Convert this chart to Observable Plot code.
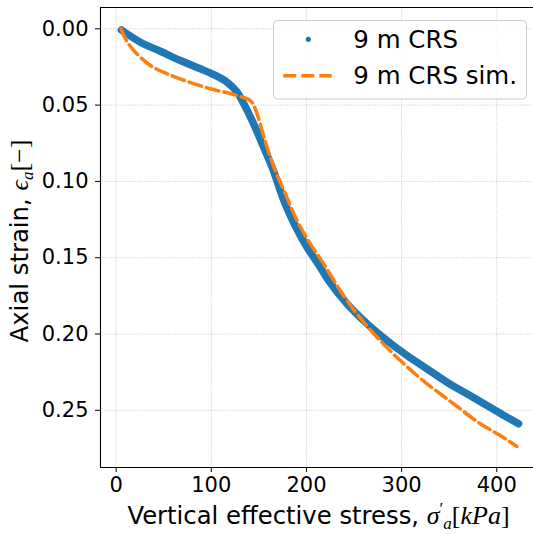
<!DOCTYPE html>
<html><head><meta charset="utf-8">
<script src="https://cdn.jsdelivr.net/npm/d3@7"></script>
<script src="https://cdn.jsdelivr.net/npm/@observablehq/plot@0.6"></script>
<style>body{margin:0;background:#fff} svg{display:block}</style>
</head><body><div id="chart"></div>
<script>
const blueStress = [5.5, 25.5, 46.5, 67.5, 88.5, 102.5, 116.6, 127.1, 134, 144.5, 155, 163.9, 170.8, 178.5, 189, 200.6, 214.5, 223.3, 242.6, 263.7, 284.7, 305.7, 326.7, 347.7, 368.7, 389.7, 410.7, 422.9];
const blueStrain = [0.0008, 0.0088, 0.0147, 0.0208, 0.0262, 0.030, 0.035, 0.0415, 0.049, 0.0623, 0.0776, 0.0907, 0.1030, 0.1160, 0.1300, 0.1431, 0.1562, 0.165, 0.1802, 0.1933, 0.2043, 0.2141, 0.2228, 0.2316, 0.2392, 0.2469, 0.2545, 0.2588];
const simStress = [5.2, 9.8, 18.5, 36, 53.6, 74.6, 99, 123.5, 141, 144.5, 148.1, 158.6, 167.3, 177.8, 190.1, 204.1, 218.1, 235.5, 253.1, 274.2, 298.6, 326.7, 354.6, 382.7, 403.7, 421.2];
const simStrain = [0, 0.0066, 0.0142, 0.024, 0.0295, 0.0345, 0.0393, 0.0431, 0.047, 0.0503, 0.0557, 0.0776, 0.0929, 0.1081, 0.1256, 0.1409, 0.154, 0.1715, 0.1868, 0.2021, 0.2174, 0.2326, 0.2457, 0.2588, 0.2665, 0.2737];
const xTicks = [0, 100, 200, 300, 400];
const yTicks = [0, 0.05, 0.10, 0.15, 0.20, 0.25];
const seriesNames = ["9 m CRS", "9 m CRS sim."];
const xDomain = [-16.45, 438.6];
const yDomain = [-0.01396, 0.28746];

const blue = blueStress.map((s, i) => ({s, e: blueStrain[i]}));
const sim = simStress.map((s, i) => ({s, e: simStrain[i]}));

const grid = {stroke: "#b0b0b0", strokeOpacity: 1, strokeWidth: 0.8, strokeDasharray: "0.8,1.4"};

const plot = Plot.plot({
  width: 533, height: 534,
  marginLeft: 100, marginRight: 0, marginTop: 7, marginBottom: 67,
  style: {fontFamily: "DejaVu Sans", fontSize: "21px", color: "#000", background: "#fff"},
  x: {domain: xDomain, axis: null},
  y: {domain: yDomain, reverse: true, axis: null},
  marks: [
    Plot.gridX(xTicks, grid),
    Plot.gridY(yTicks, grid),
    Plot.line(blue, {x: "s", y: "e", stroke: "#1f77b4", strokeWidth: 7.5, strokeLinecap: "round", strokeLinejoin: "round", curve: "catmull-rom"}),
    Plot.line(sim, {x: "s", y: "e", stroke: "#ff7f0e", strokeWidth: 3.5, strokeDasharray: "13,5", curve: "catmull-rom"}),
    Plot.ruleY([yDomain[0], yDomain[1]], {stroke: "#000", strokeWidth: 1.1}),
    Plot.ruleX([xDomain[0]], {stroke: "#000", strokeWidth: 1.1}),
    Plot.axisX(xTicks, {anchor: "bottom", tickSize: 5, tickPadding: 5, label: null, fontSize: 21, tickFormat: d3.format("d")}),
    Plot.axisY(yTicks, {anchor: "left", tickSize: 5, tickPadding: 7, label: null, fontSize: 21, tickFormat: d3.format(".2f")})
  ]
});

const svg = d3.select(plot);
const mathFont = "Liberation Serif";

// x label
const xl = svg.append("text").attr("x", 318.5).attr("y", 524).attr("text-anchor", "middle")
  .attr("font-family", "DejaVu Sans").attr("font-size", 24.3).attr("fill", "#000");
xl.append("tspan").text("Vertical effective stress, ");
xl.append("tspan").attr("font-family", mathFont).attr("font-style", "italic").attr("font-size", 26).text("σ");
xl.append("tspan").attr("font-family", mathFont).attr("font-size", 17).attr("dy", -10).text("′");
xl.append("tspan").attr("font-family", mathFont).attr("font-style", "italic").attr("font-size", 17).attr("dx", 0).attr("dy", 15).text("a");
xl.append("tspan").attr("font-family", mathFont).attr("font-size", 26).attr("dy", -5).text("[");
xl.append("tspan").attr("font-family", mathFont).attr("font-style", "italic").attr("font-size", 26).text("kPa");
xl.append("tspan").attr("font-family", mathFont).attr("font-size", 26).text("]");

// y label
const yl = svg.append("text").attr("transform", "translate(28,241) rotate(-90)").attr("text-anchor", "middle")
  .attr("font-family", "DejaVu Sans").attr("font-size", 24.3).attr("fill", "#000");
yl.append("tspan").text("Axial strain, ");
yl.append("tspan").attr("font-family", mathFont).attr("font-style", "italic").attr("font-size", 26).text("ϵ");
yl.append("tspan").attr("font-family", mathFont).attr("font-style", "italic").attr("font-size", 17).attr("dy", 5).text("a");
yl.append("tspan").attr("font-family", mathFont).attr("font-size", 26).attr("dy", -5).text("[−]");

// legend
const lg = svg.append("g").attr("text-anchor", "start");
lg.append("rect").attr("x", 273.5).attr("y", 20.5).attr("width", 253).attr("height", 78.5).attr("rx", 4)
  .attr("fill", "#fff").attr("fill-opacity", 0.8).attr("stroke", "#cccccc").attr("stroke-width", 1);
lg.append("circle").attr("cx", 308.3).attr("cy", 39.3).attr("r", 2.6).attr("fill", "#1f77b4");
lg.append("line").attr("x1", 283.3).attr("x2", 331.7).attr("y1", 75.7).attr("y2", 75.7)
  .attr("stroke", "#ff7f0e").attr("stroke-width", 3.5).attr("stroke-dasharray", "13,5");
lg.append("text").attr("x", 353.3).attr("y", 47.5).attr("font-family", "DejaVu Sans").attr("font-size", 24.5).attr("fill", "#000").text(seriesNames[0]);
lg.append("text").attr("x", 353.3).attr("y", 84).attr("font-family", "DejaVu Sans").attr("font-size", 24.5).attr("fill", "#000").text(seriesNames[1]);

document.getElementById("chart").appendChild(plot);
</script>
</body></html>
